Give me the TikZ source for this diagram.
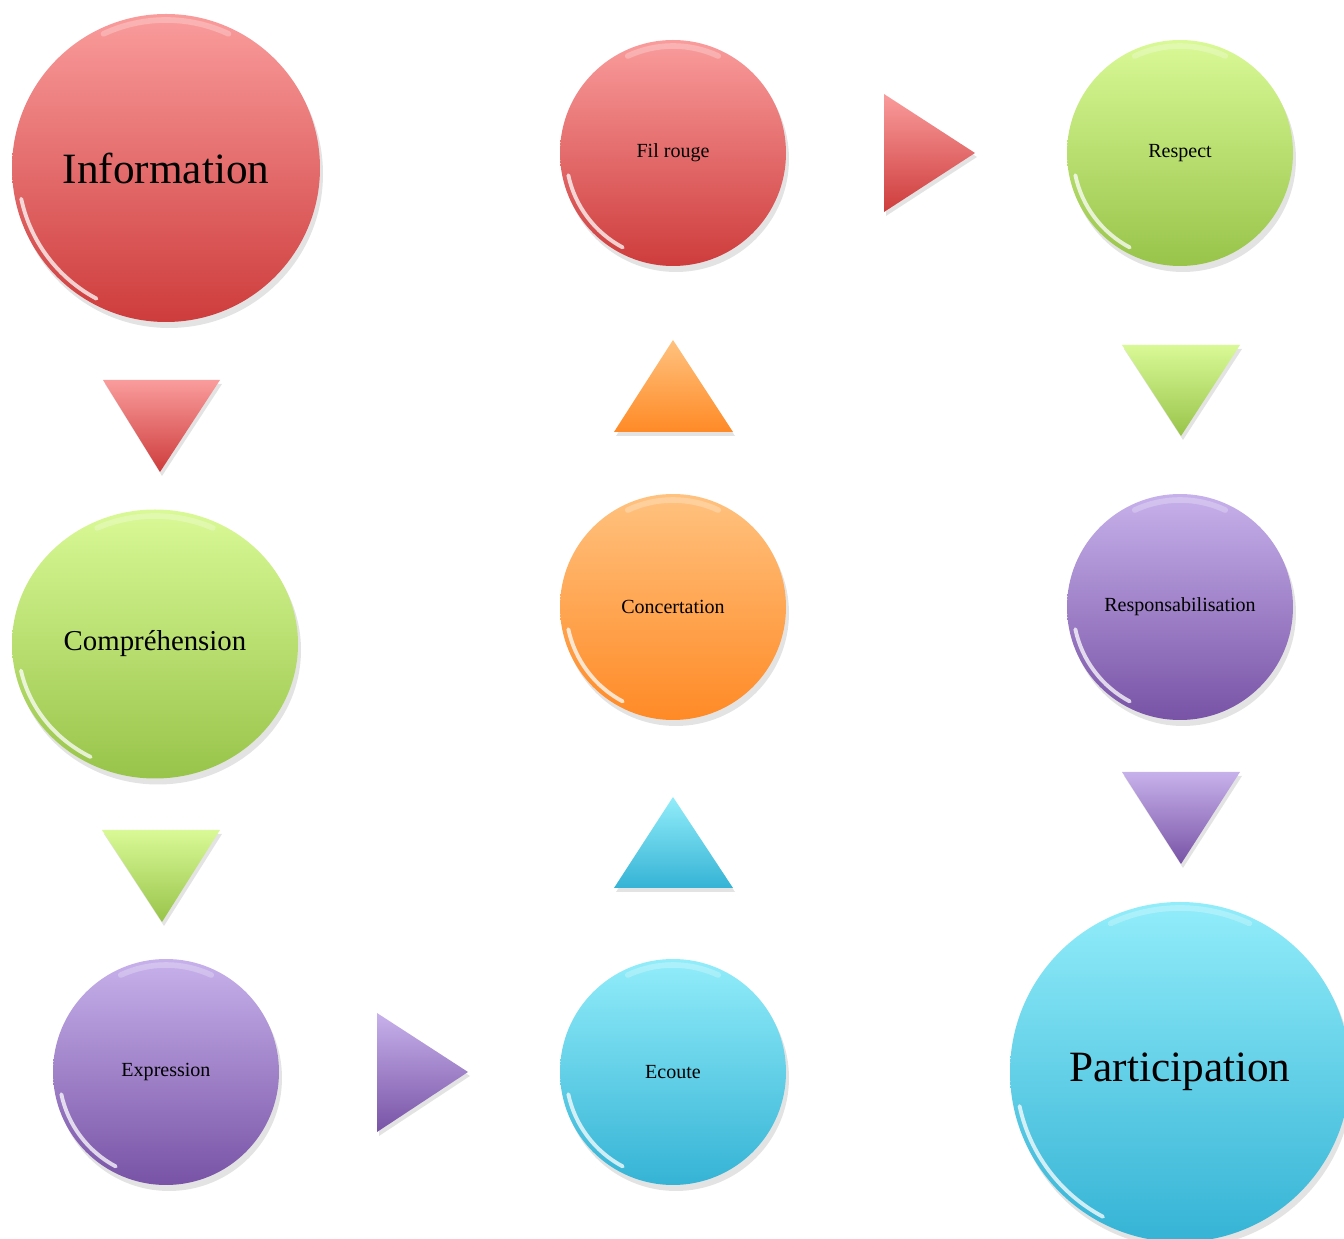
\documentclass[tikz,border=0pt]{standalone}
\usepackage{fontspec}
\setmainfont{Liberation Serif}
\usetikzlibrary{shapes.geometric,shadows}

\definecolor{redtop}{HTML}{FA9C9C}
\definecolor{redbot}{HTML}{CE3C3C}
\definecolor{greentop}{HTML}{D9F996}
\definecolor{greenbot}{HTML}{98C44A}
\definecolor{violettop}{HTML}{C7B1EB}
\definecolor{violetbot}{HTML}{7853A6}
\definecolor{orangetop}{HTML}{FFC27F}
\definecolor{orangebot}{HTML}{FF8A26}
\definecolor{bluetop}{HTML}{92EDFA}
\definecolor{bluebot}{HTML}{35B3D5}

\tikzset{
  ball/.style={circle, inner sep=0pt, text=black,
    drop shadow={opacity=0.22, shadow xshift=0.03cm, shadow yshift=-0.06cm}},
  bigtext/.style={font=\fontsize{12.3}{14}\selectfont},
  midtext/.style={font=\fontsize{8.2}{10}\selectfont},
  smalltext/.style={font=\fontsize{5.7}{7}\selectfont},
  tri/.style={drop shadow={opacity=0.22, shadow xshift=0.02cm, shadow yshift=-0.04cm}},
  redfill/.style={top color=redtop, bottom color=redbot},
  greenfill/.style={top color=greentop, bottom color=greenbot},
  violetfill/.style={top color=violettop, bottom color=violetbot},
  orangefill/.style={top color=orangetop, bottom color=orangebot},
  bluefill/.style={top color=bluetop, bottom color=bluebot},
}

% white rim on the lower left and soft light on top
\newcommand{\gloss}[3]{%
  \draw[white, opacity=0.75, line width=1.1pt, line cap=round]
    (#1.center) ++(192:#2 and #3) arc[start angle=192, end angle=242, x radius=#2, y radius=#3];
  \draw[white, opacity=0.25, line width=1.6pt, line cap=round]
    (#1.center) ++(65:#2 and #3) arc[start angle=65, end angle=115, x radius=#2, y radius=#3];
}

\begin{document}
\begin{tikzpicture}
  \useasboundingbox (0,0) rectangle (13.44,-12.39);

  % left column
  \node[ball, redfill, minimum size=3.08cm, bigtext] (info) at (1.66,-1.68) {Information};
  \node[ball, ellipse, greenfill, minimum width=2.86cm, minimum height=2.69cm, midtext] (compr) at (1.55,-6.44) {Compréhension};
  \node[ball, violetfill, minimum size=2.26cm, smalltext] (expr) at (1.66,-10.72) {Expression};

  % middle column
  \node[ball, redfill, minimum size=2.26cm, smalltext] (fil) at (6.73,-1.53) {Fil rouge};
  \node[ball, orangefill, minimum size=2.26cm, smalltext] (concert) at (6.73,-6.07) {Concertation};
  \node[ball, bluefill, minimum size=2.26cm, smalltext] (ecoute) at (6.73,-10.72) {Ecoute};

  % right column
  \node[ball, greenfill, minimum size=2.26cm, smalltext] (respect) at (11.80,-1.53) {Respect};
  \node[ball, violetfill, minimum size=2.26cm, smalltext] (respons) at (11.80,-6.07) {Responsabilisation};
  \node[ball, bluefill, minimum size=3.40cm, bigtext] (partic) at (11.80,-10.72) {Participation};

  \gloss{info}{1.48}{1.48}
  \gloss{compr}{1.37}{1.28}
  \gloss{expr}{1.07}{1.07}
  \gloss{fil}{1.07}{1.07}
  \gloss{concert}{1.07}{1.07}
  \gloss{ecoute}{1.07}{1.07}
  \gloss{respect}{1.07}{1.07}
  \gloss{respons}{1.07}{1.07}
  \gloss{partic}{1.64}{1.64}

  % triangles
  \path[tri, redfill] (1.03,-3.80) -- (2.20,-3.80) -- (1.60,-4.72) -- cycle;
  \path[tri, greenfill] (1.02,-8.30) -- (2.20,-8.30) -- (1.62,-9.22) -- cycle;
  \path[tri, violetfill] (3.77,-10.13) -- (4.68,-10.72) -- (3.77,-11.32) -- cycle;
  \path[tri, bluefill] (6.14,-8.88) -- (6.73,-7.97) -- (7.33,-8.88) -- cycle;
  \path[tri, orangefill] (6.14,-4.32) -- (6.73,-3.40) -- (7.33,-4.32) -- cycle;
  \path[tri, redfill] (8.84,-0.94) -- (9.75,-1.53) -- (8.84,-2.12) -- cycle;
  \path[tri, greenfill] (11.22,-3.45) -- (12.40,-3.45) -- (11.81,-4.36) -- cycle;
  \path[tri, violetfill] (11.22,-7.72) -- (12.40,-7.72) -- (11.81,-8.64) -- cycle;
\end{tikzpicture}
\end{document}
